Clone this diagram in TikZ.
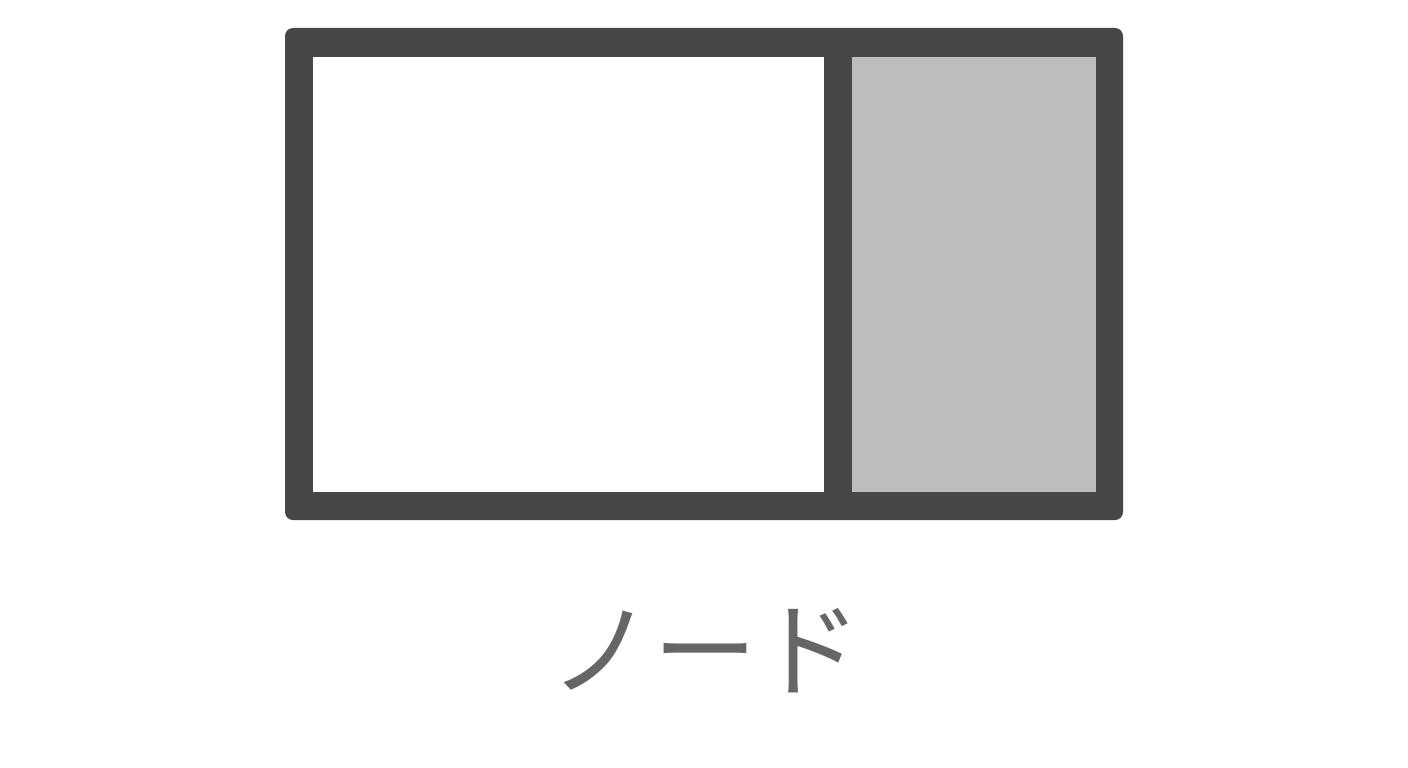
\documentclass[tikz,border=0pt]{standalone}
\usepackage{fontspec}
\newfontfamily\cjk{Noto Sans CJK JP}
\definecolor{frame}{HTML}{474747}
\definecolor{cellgray}{HTML}{BDBDBD}
\definecolor{txtgray}{HTML}{666666}
\begin{document}
\begin{tikzpicture}[x=1pt,y=-1pt,
  cell/.style={rectangle,inner sep=0pt,outer sep=0pt,draw=none}]
\useasboundingbox[fill=white] (0,0) rectangle (1408,768);
\node[cell,fill=frame,rounded corners=8pt,minimum width=838pt,minimum height=492pt] (outer) at (704,274) {};
\node[cell,fill=white,minimum width=511pt,minimum height=435pt] (left) at (568.5,274.5) {};
\node[cell,fill=cellgray,minimum width=244pt,minimum height=435pt] (right) at (974,274.5) {};
\node[inner sep=0pt,text=txtgray,font=\cjk\fontsize{104pt}{116pt}\selectfont] (label) at (705,651) {ノード};
\end{tikzpicture}
\end{document}
